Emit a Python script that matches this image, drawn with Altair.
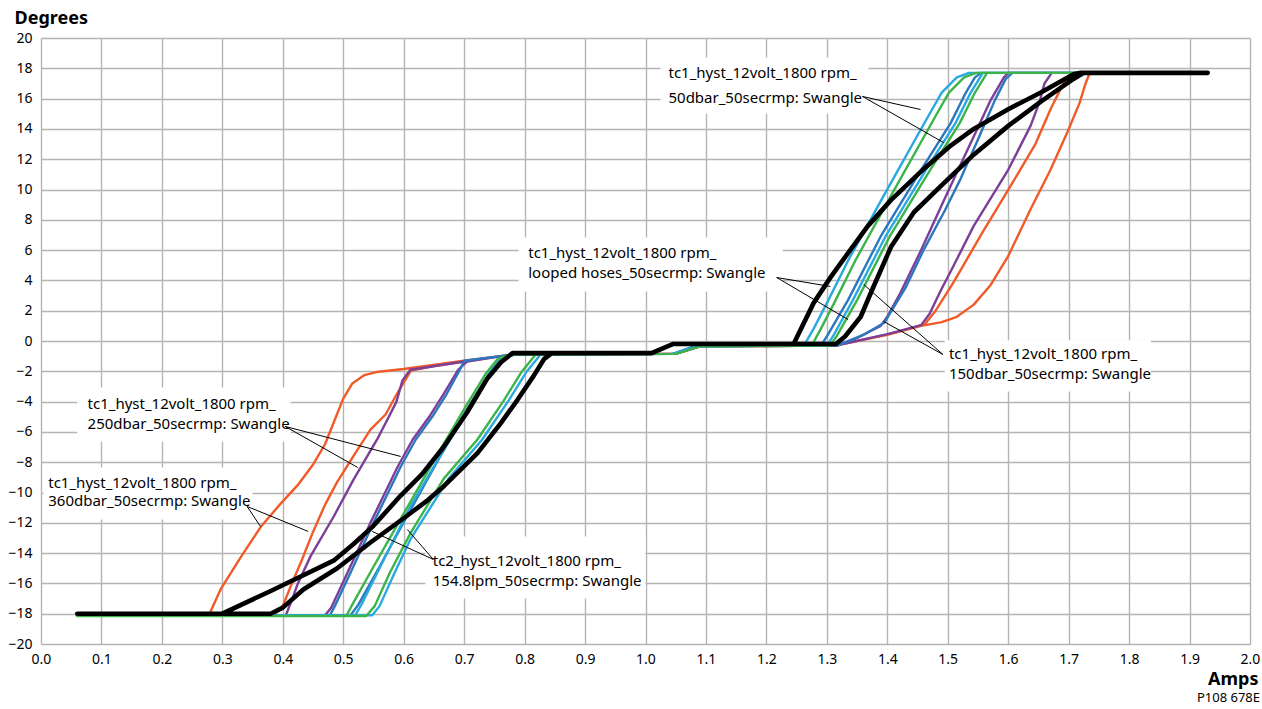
import altair as alt
import pandas as pd

# ---------------- data ----------------
x_ticks = [round(i * 0.1, 1) for i in range(21)]
y_ticks = list(range(-20, 21, 2))

orange_x = [0.06, 0.385, 0.40, 0.415, 0.43, 0.45, 0.47, 0.49, 0.52, 0.545, 0.57, 0.59, 0.612, 0.65, 0.70, 0.77, 0.80,
            1.05, 1.09, 1.315, 1.40, 1.456, 1.49, 1.515, 1.543, 1.571, 1.60, 1.637, 1.67, 1.698, 1.718, 1.728, 1.735,
            1.71, 1.695, 1.67, 1.645, 1.605, 1.555, 1.51, 1.48, 1.462, 1.40, 1.315, 1.09, 1.05, 0.80, 0.77, 0.70, 0.60,
            0.555, 0.535, 0.515, 0.50, 0.485, 0.47, 0.451, 0.425, 0.395, 0.363, 0.33, 0.297, 0.28, 0.275, 0.06]
orange_y = [-18.1, -18.1, -17.5, -16.0, -14.6, -12.6, -10.8, -9.3, -7.4, -5.85, -4.85, -3.4, -1.95, -1.65, -1.35, -0.95, -0.85,
            -0.85, -0.35, -0.3, 0.4, 1.0, 1.25, 1.6, 2.4, 3.7, 5.6, 8.7, 11.3, 13.8, 15.7, 17.0, 17.7,
            17.7, 17.3, 15.3, 13.0, 10.3, 7.0, 3.9, 2.0, 1.1, 0.4, -0.3, -0.35, -0.85, -0.85, -0.95, -1.3, -1.85,
            -2.05, -2.25, -2.8, -3.8, -5.3, -6.8, -8.1, -9.5, -10.8, -12.3, -14.3, -16.4, -17.9, -18.1, -18.1]

purple_x = [0.06, 0.47, 0.48, 0.507, 0.545, 0.59, 0.615, 0.644, 0.666, 0.69, 0.705, 0.77, 0.80, 1.05, 1.09, 1.315, 1.40,
            1.456, 1.47, 1.488, 1.505, 1.543, 1.60, 1.637, 1.652, 1.66, 1.672, 1.73,
            1.60, 1.593, 1.571, 1.543, 1.516, 1.488, 1.456, 1.422, 1.40, 1.389, 1.35, 1.315, 1.09, 1.05, 0.80, 0.77,
            0.70, 0.644, 0.611, 0.598, 0.588, 0.578, 0.556, 0.517, 0.484, 0.446, 0.425, 0.413, 0.405, 0.06]
purple_y = [-18.1, -18.1, -17.6, -15.3, -12.0, -8.3, -6.5, -4.9, -3.5, -1.9, -1.35, -0.95, -0.85, -0.85, -0.35, -0.3, 0.45,
            1.05, 1.8, 3.3, 4.6, 7.6, 11.3, 14.2, 15.8, 17.0, 17.7, 17.7,
            17.7, 17.4, 15.9, 13.5, 11.2, 8.8, 6.0, 3.2, 1.6, 1.0, 0.2, -0.3, -0.35, -0.85, -0.85, -0.95,
            -1.35, -1.7, -1.9, -2.6, -4.0, -4.8, -6.5, -9.15, -11.6, -14.2, -16.0, -17.3, -18.1, -18.1]

blue_x = [0.06, 0.512, 0.525, 0.56, 0.605, 0.655, 0.705, 0.74, 0.76, 0.78, 1.045, 1.08, 1.318, 1.36, 1.395, 1.43, 1.46,
          1.495, 1.52, 1.55, 1.578, 1.596, 1.607, 1.73,
          1.555, 1.545, 1.53, 1.505, 1.456, 1.389, 1.335, 1.30, 1.29, 1.08, 1.045, 0.78, 0.77, 0.70, 0.693, 0.671,
          0.649, 0.62, 0.595, 0.55, 0.512, 0.486, 0.478, 0.06]
blue_y = [-18.1, -18.1, -17.4, -14.9, -11.6, -8.0, -4.5, -2.2, -1.2, -0.9, -0.85, -0.35, -0.3, 0.4, 1.2, 3.5, 6.0,
          8.6, 10.6, 13.3, 15.9, 17.3, 17.7, 17.7,
          17.7, 17.4, 16.4, 14.4, 11.3, 6.9, 2.7, 0.3, -0.3, -0.35, -0.85, -0.9, -0.95, -1.3, -1.9, -3.5,
          -4.9, -6.5, -8.3, -12.0, -15.3, -17.5, -18.1, -18.1]

lblue_x = [0.06, 0.548, 0.56, 0.585, 0.611, 0.674, 0.73, 0.774, 0.802, 0.826, 1.045, 1.085, 1.30, 1.31, 1.343, 1.397,
           1.464, 1.513, 1.538, 1.558, 1.73,
           1.535, 1.515, 1.49, 1.47, 1.39, 1.335, 1.30, 1.278, 1.262, 1.085, 1.045, 0.785, 0.765, 0.745, 0.71, 0.66,
           0.61, 0.56, 0.53, 0.52, 0.06]
lblue_y = [-18.1, -18.1, -17.5, -15.3, -13.1, -9.1, -6.5, -3.9, -2.1, -0.9, -0.85, -0.35, -0.3, 0.3, 2.7, 6.9,
           11.3, 14.4, 16.4, 17.7, 17.7,
           17.7, 17.4, 16.4, 15.0, 9.3, 5.3, 2.5, 0.8, -0.3, -0.35, -0.85, -0.9, -1.1, -2.0, -4.3, -7.6,
           -11.0, -15.0, -17.4, -18.1, -18.1]

green_x = [0.06, 0.538, 0.552, 0.577, 0.611, 0.666, 0.722, 0.766, 0.794, 0.818, 1.05, 1.09, 1.305, 1.316, 1.35, 1.404,
           1.471, 1.52, 1.545, 1.565, 1.73,
           1.547, 1.527, 1.502, 1.482, 1.402, 1.347, 1.312, 1.29, 1.275, 1.09, 1.05, 0.775, 0.755, 0.735, 0.70, 0.65,
           0.60, 0.55, 0.515, 0.505, 0.06]
green_y = [-18.15, -18.15, -17.5, -15.3, -12.7, -9.1, -6.5, -3.9, -2.1, -0.9, -0.85, -0.35, -0.3, 0.3, 2.7, 6.9,
           11.3, 14.4, 16.4, 17.7, 17.7,
           17.7, 17.4, 16.4, 15.0, 9.3, 5.3, 2.5, 0.8, -0.3, -0.35, -0.85, -0.9, -1.2, -2.2, -4.5, -7.9,
           -11.4, -14.9, -17.4, -18.15, -18.15]

black_x = [0.06, 0.38, 0.40, 0.434, 0.49, 0.545, 0.60, 0.64, 0.666, 0.722, 0.761, 0.788, 0.815, 0.832, 0.845, 1.01,
           1.045, 1.315, 1.33, 1.356, 1.373, 1.406, 1.444, 1.488, 1.543, 1.60, 1.654, 1.708, 1.725, 1.93,
           1.72, 1.708, 1.654, 1.60, 1.543, 1.505, 1.456, 1.406, 1.368, 1.335, 1.306, 1.278, 1.245, 1.045, 1.01,
           0.78, 0.761, 0.738, 0.705, 0.666, 0.63, 0.595, 0.55, 0.517, 0.484, 0.38, 0.30, 0.06]
black_y = [-18.0, -18.0, -17.6, -16.4, -15.0, -13.3, -11.7, -10.5, -9.6, -7.4, -5.4, -3.9, -2.3, -1.2, -0.8, -0.8,
           -0.2, -0.2, 0.3, 1.6, 3.2, 6.2, 8.5, 10.2, 12.3, 14.2, 15.8, 17.3, 17.7, 17.7,
           17.7, 17.6, 16.4, 15.3, 14.0, 12.9, 11.2, 9.3, 7.6, 5.8, 4.2, 2.5, -0.2, -0.2, -0.8,
           -0.8, -1.4, -2.5, -4.7, -7.0, -8.8, -10.2, -12.2, -13.4, -14.5, -16.5, -18.0, -18.0]

# callouts: two text lines each, a white box, and two leader lines
note_line1 = ["tc1_hyst_12volt_1800 rpm_"] * 5 + ["tc2_hyst_12volt_1800 rpm_"]
note_line2 = ["50dbar_50secrmp: Swangle", "looped hoses_50secrmp: Swangle", "150dbar_50secrmp: Swangle",
              "250dbar_50secrmp: Swangle", "360dbar_50secrmp: Swangle", "154.8lpm_50secrmp: Swangle"]
note_x = [1.038, 0.806, 1.502, 0.077, 0.012, 0.648]
note_y1 = [17.66, 5.78, -0.89, -4.19, -9.34, -14.55]
note_y2 = [16.07, 4.46, -2.21, -5.51, -10.59, -15.87]
box_x1 = [1.025, 0.790, 1.495, 0.060, 0.004, 0.636]
box_x2 = [1.369, 1.227, 1.836, 0.413, 0.350, 1.000]
box_y1 = [18.71, 6.83, 0.05, -3.07, -8.35, -12.9]
box_y2 = [15.02, 3.27, -3.33, -6.63, -11.78, -17.0]
lead_x1 = [1.359, 1.359, 1.217, 1.217, 1.492, 1.492, 0.404, 0.404, 0.341, 0.341, 0.649, 0.649]
lead_y1 = [16.14, 16.14, 4.19, 4.19, -0.89, -0.89, -5.64, -5.64, -10.92, -10.92, -14.42, -14.42]
lead_x2 = [1.455, 1.493, 1.306, 1.335, 1.361, 1.394, 0.595, 0.524, 0.363, 0.442, 0.548, 0.606]
lead_y2 = [15.28, 13.10, 3.60, 1.42, 3.73, 1.29, -7.62, -8.35, -12.24, -12.57, -12.57, -12.44]

# ---------------- chart ----------------
FONT = "Noto Sans"
W, H = 1209, 606
GRID = "#b4b4b4"

xs = alt.Scale(domain=[0, 2], nice=False, zero=False)
ys = alt.Scale(domain=[-20, 20], nice=False, zero=False)

x_axis = alt.Axis(
    values=x_ticks, format=".1f", title="Amps", grid=True, gridColor=GRID, gridWidth=1.4,
    ticks=False, domain=False, labelFont=FONT, labelFontSize=14, labelColor="black", labelPadding=8,
    labelFlush=False, labelOverlap=False,
    titleFont=FONT, titleFontSize=18, titleFontWeight="bold", titleColor="black",
    titleAlign="right", titleBaseline="middle", titleX=W + 8, titleY=35)
y_axis = alt.Axis(
    values=y_ticks, format="d", title="Degrees", grid=True, gridColor=GRID, gridWidth=1.4,
    ticks=False, domain=False, labelFont=FONT, labelFontSize=14, labelColor="black", labelPadding=9,
    labelFlush=False, labelOverlap=False,
    titleFont=FONT, titleFontSize=18, titleFontWeight="bold", titleColor="black",
    titleAngle=0, titleAlign="left", titleBaseline="middle", titleX=-27, titleY=-20)


def X(field):
    return alt.X(field, scale=xs, axis=x_axis, title="Amps")


def Y(field):
    return alt.Y(field, scale=ys, axis=y_axis, title="Degrees")


series = [
    ("orange", orange_x, orange_y, "#f15a29", 2.4),
    ("purple", purple_x, purple_y, "#7b3f98", 2.4),
    ("blue", blue_x, blue_y, "#2b78be", 2.4),
    ("lightblue", lblue_x, lblue_y, "#29a9e1", 2.4),
    ("green", green_x, green_y, "#3bb44a", 2.4),
    ("black", black_x, black_y, "#000000", 4.6),
]

boxes = pd.DataFrame({"x1": box_x1, "x2": box_x2, "y1": box_y1, "y2": box_y2})
layers = [alt.Chart(boxes).mark_rect(color="white").encode(x=X("x1:Q"), x2="x2:Q", y=Y("y1:Q"), y2="y2:Q")]

for name, sx, sy, col, sw in series:
    df = pd.DataFrame({"i": list(range(len(sx))), "amps": sx, "deg": sy})
    layers.append(
        alt.Chart(df).mark_line(color=col, strokeWidth=sw, strokeJoin="round", strokeCap="round").encode(
            x=X("amps:Q"), y=Y("deg:Q"), order="i:Q")
    )

leads = pd.DataFrame({"x1": lead_x1, "y1": lead_y1, "x2": lead_x2, "y2": lead_y2})
layers.append(
    alt.Chart(leads).mark_rule(color="black", strokeWidth=1).encode(
        x=X("x1:Q"), y=Y("y1:Q"), x2="x2:Q", y2="y2:Q")
)

notes = pd.DataFrame({"x": note_x * 2, "y": note_y1 + note_y2, "t": note_line1 + note_line2})
layers.append(
    alt.Chart(notes).mark_text(align="left", baseline="middle", font=FONT, fontSize=15, color="black").encode(
        x=X("x:Q"), y=Y("y:Q"), text="t:N")
)

code = pd.DataFrame({"t": ["P108 678E"]})
layers.append(
    alt.Chart(code).mark_text(align="right", baseline="middle", font=FONT, fontSize=13, color="black").encode(
        x=alt.value(W + 10), y=alt.value(H + 54), text="t:N")
)

chart = alt.layer(*layers).properties(
    width=W, height=H,
    autosize=alt.AutoSizeParams(type="none"),
    padding={"left": 41, "top": 38, "right": 12, "bottom": 65},
    background="white",
).configure_view(stroke=None)

chart.save("out.html", embed_options={"renderer": "svg", "actions": False})
